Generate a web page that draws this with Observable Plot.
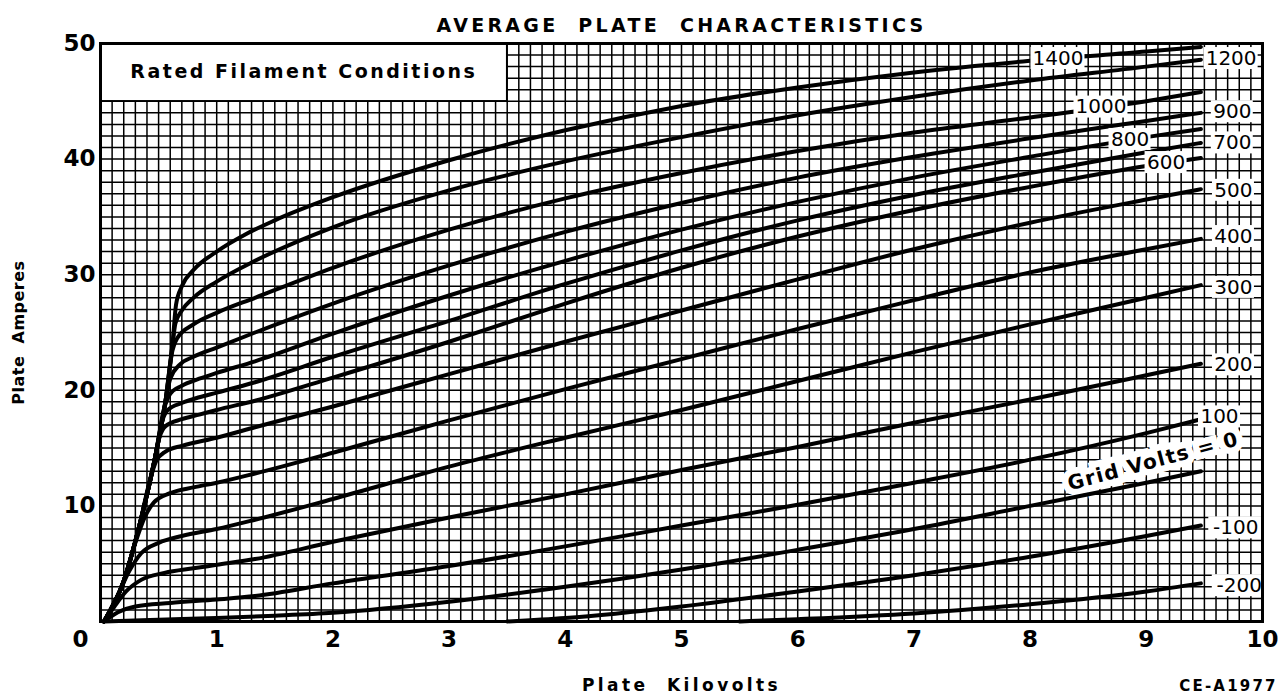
<!DOCTYPE html>
<html><head><meta charset="utf-8">
<script src="https://cdn.jsdelivr.net/npm/d3@7"></script>
<script src="https://cdn.jsdelivr.net/npm/@observablehq/plot@0.6"></script>
<style>body{margin:0;background:#fff;} svg{display:block}</style>
</head><body><div id="chart"></div>
<script>
// Plate kilovolts vs plate amperes, one list per grid voltage: [kV, A]
const g1400 = [[0.03,0],[0.2,3.5],[0.33,8.1],[0.47,14.2],[0.56,19.1],[0.62,24.0],[0.65,27.4],[0.7,29.0],[0.8,30.4],[1,32.0],[1.25,33.5],[1.5,34.7],[2,36.7],[3,39.9],[4,42.5],[5,44.6],[6,46.2],[7,47.5],[8,48.5],[9,49.3],[9.47,49.7]];
const g1200 = [[0.03,0],[0.2,3.5],[0.33,8.1],[0.47,14.2],[0.56,19.1],[0.62,24.0],[0.645,25.8],[0.7,26.9],[0.8,28.0],[1,29.4],[1.33,31.2],[2,34.1],[3,37.3],[4,39.8],[5,41.9],[6,43.8],[7,45.4],[8,46.8],[9,48.0],[9.47,48.6]];
const g1000 = [[0.03,0],[0.2,3.5],[0.33,8.1],[0.47,14.2],[0.56,19.1],[0.61,23.0],[0.66,24.5],[0.8,25.7],[1,26.7],[1.33,28.0],[2,30.6],[3,33.9],[4,36.6],[5,38.8],[6,40.7],[7,42.3],[8,43.6],[9,45.0],[9.47,45.8]];
const g900 = [[0.03,0],[0.2,3.5],[0.33,8.1],[0.47,14.2],[0.56,19.1],[0.6,21.0],[0.68,22.2],[0.8,22.9],[1,23.7],[1.33,25.0],[2,27.5],[3,30.8],[4,33.7],[5,36.2],[6,38.4],[7,40.2],[8,41.8],[9,43.3],[9.47,44.0]];
const g800 = [[0.03,0],[0.2,3.5],[0.33,8.1],[0.47,14.2],[0.55,18.5],[0.6,19.7],[0.7,20.4],[0.85,21.0],[1,21.5],[1.33,22.5],[2,24.9],[3,28.2],[4,31.2],[5,33.9],[6,36.3],[7,38.4],[8,40.2],[9,41.9],[9.47,42.6]];
const g700 = [[0.03,0],[0.2,3.5],[0.33,8.1],[0.47,14.2],[0.53,17.3],[0.58,18.3],[0.7,18.9],[0.85,19.4],[1,19.8],[1.33,20.7],[2,22.9],[3,26.0],[4,29.2],[5,32.1],[6,34.7],[7,36.9],[8,38.8],[9,40.6],[9.47,41.4]];
const g600 = [[0.03,0],[0.2,3.5],[0.33,8.1],[0.47,14.2],[0.51,16.0],[0.56,16.9],[0.7,17.5],[0.85,17.9],[1,18.3],[1.33,19.1],[2,21.1],[3,24.2],[4,27.5],[5,30.6],[6,33.3],[7,35.6],[8,37.6],[9,39.4],[9.47,40.1]];
const g500 = [[0.03,0],[0.2,3.5],[0.33,8.1],[0.42,12.0],[0.48,13.9],[0.56,14.7],[0.7,15.2],[1,15.9],[1.33,16.8],[2,18.6],[3,21.4],[4,24.2],[5,26.9],[6,29.6],[7,32.2],[8,34.5],[9,36.5],[9.47,37.4]];
const g400 = [[0.03,0],[0.2,3.5],[0.3,6.8],[0.38,9.0],[0.46,10.3],[0.6,11.1],[0.8,11.6],[1,12.0],[1.33,12.8],[2,14.6],[3,17.4],[4,20.1],[5,22.7],[6,25.3],[7,27.8],[8,30.2],[9,32.2],[9.47,33.1]];
const g300 = [[0.03,0],[0.15,2.3],[0.25,4.4],[0.35,5.9],[0.5,6.8],[0.7,7.4],[1,8.0],[1.33,8.8],[2,10.6],[3,13.4],[4,15.9],[5,18.3],[6,20.8],[7,23.3],[8,25.7],[9,28.0],[9.47,29.1]];
const g200 = [[0.03,0],[0.12,1.3],[0.22,2.6],[0.35,3.6],[0.55,4.2],[0.8,4.6],[1,4.9],[1.33,5.4],[2,6.9],[3,9.0],[4,11.0],[5,13.1],[6,15.1],[7,17.2],[8,19.2],[9,21.3],[9.47,22.3]];
const g100 = [[0.03,0],[0.15,0.8],[0.3,1.3],[0.6,1.6],[1,1.9],[1.33,2.2],[2,3.3],[3,4.8],[4,6.5],[5,8.3],[6,10.1],[7,12.0],[8,14.0],[9,16.3],[9.47,17.5]];
const g0 = [[0.03,0],[0.5,0.15],[1,0.3],[1.5,0.5],[2,0.75],[3,1.7],[4,3.0],[5,4.5],[6,6.2],[7,8.0],[8,10.0],[9,12.0],[9.47,13.0]];
const gm100 = [[3.5,0],[4,0.3],[5,1.3],[6,2.6],[7,4.0],[8,5.6],[9,7.4],[9.47,8.3]];
const gm200 = [[5.5,0],[6,0.2],[7,0.7],[8,1.5],[9,2.6],[9.47,3.3]];

const gridVolts = ["1400","1200","1000","900","800","700","600","500","400","300","200","100","0","-100","-200"];
const series = [g1400,g1200,g1000,g900,g800,g700,g600,g500,g400,g300,g200,g100,g0,gm100,gm200];

// curve labels: text, kV, A
const labelText = ["1400","1200","1000","900","800","700","600","500","400","300","200","100","-100","-200"];
const labelKV   = [8.24, 9.73, 8.61, 9.74, 8.86, 9.74, 9.17, 9.75, 9.75, 9.75, 9.75, 9.63, 9.77, 9.8];
const labelA    = [48.7, 48.7, 44.5, 44.1, 41.7, 41.4, 39.7, 37.3, 33.3, 28.9, 22.2, 17.7, 8.1, 3.1];

const xTicks = [1,2,3,4,5,6,7,8,9,10];
const yTicks = [10,20,30,40,50];

const titleText = "AVERAGE  PLATE  CHARACTERISTICS";
const boxText = "Rated Filament Conditions";
const xLabel = "Plate  Kilovolts";
const yLabel = "Plate  Amperes";
const curveNote = "Grid Volts = 0";
const figId = "CE-A1977";

const rows = series.flatMap((s, i) => s.map(([kv, a]) => ({grid: gridVolts[i], kv, a})));
const labels = labelText.map((t, i) => ({t, kv: labelKV[i], a: labelA[i]}));
const xGrid = d3.range(0, 101).map(i => i / 10);
const yGrid = d3.range(0, 51);

const font = "'DejaVu Sans', sans-serif";
const bold = {fontWeight: "bold", fill: "black"};

const chart = Plot.plot({
  width: 1278, height: 698,
  marginLeft: 100, marginRight: 16, marginTop: 43, marginBottom: 77,
  style: {fontFamily: font, background: "white", color: "black", overflow: "visible"},
  x: {domain: [0, 10]},
  y: {domain: [0, 50]},
  marks: [
    Plot.ruleX(xGrid, {stroke: "black", strokeWidth: 1.5}),
    Plot.ruleY(yGrid, {stroke: "black", strokeWidth: 1.5}),
    Plot.rect([{x1: 0, x2: 3.5, y1: 45, y2: 50}], {x1: "x1", x2: "x2", y1: "y1", y2: "y2", fill: "white", stroke: "black", strokeWidth: 1.5}),
    Plot.text([boxText], {x: 1.75, y: 47.5, text: d => d, fontSize: 19, ...bold}),
    Plot.text([curveNote], {x: 9.06, y: 13.85, text: d => d, rotate: -15, fontSize: 20, ...bold, stroke: "white", strokeWidth: 13, strokeLinejoin: "miter", paintOrder: "stroke"}),
    Plot.line(rows, {x: "kv", y: "a", z: "grid", stroke: "black", strokeWidth: 4, curve: "monotone-x"}),
    Plot.rect(labels.filter(d => d.t.length > 3), {x1: "kv", x2: "kv", y1: "a", y2: "a", insetLeft: -27, insetRight: -27, insetTop: -11, insetBottom: -11, fill: "white"}),
    Plot.rect(labels.filter(d => d.t.length <= 3), {x1: "kv", x2: "kv", y1: "a", y2: "a", insetLeft: -21, insetRight: -21, insetTop: -11, insetBottom: -11, fill: "white"}),
    Plot.text(labels, {x: "kv", y: "a", text: "t", fontSize: 20, fill: "black"}),
    Plot.frame({stroke: "black", strokeWidth: 3}),
    Plot.axisX(xTicks, {tickSize: 0, tickPadding: 9, fontSize: 23, ...bold, label: null, tickFormat: d => String(d)}),
    Plot.axisX([0], {tickSize: 0, tickPadding: 9, fontSize: 23, ...bold, label: null, dx: -20, tickFormat: d => String(d)}),
    Plot.axisY(yTicks, {tickSize: 0, tickPadding: 5, fontSize: 23, ...bold, label: null, tickFormat: d => String(d)}),
    Plot.text([titleText], {frameAnchor: "top", dy: -25, text: d => d, textAnchor: "middle", fontSize: 19, ...bold}),
    Plot.text([xLabel], {frameAnchor: "bottom", dy: 69, text: d => d, textAnchor: "middle", fontSize: 17, ...bold}),
    Plot.text([yLabel], {frameAnchor: "left", dx: -82, rotate: -90, text: d => d, textAnchor: "middle", fontSize: 16, ...bold}),
    Plot.text([figId], {frameAnchor: "bottom-right", dx: -34, dy: 69, text: d => d, textAnchor: "middle", fontSize: 15, ...bold})
  ]
});

// letter spacing for the lettered texts
const spacing = new Map([[titleText, 3.3], [boxText, 2.5], [xLabel, 3.4], [yLabel, 0.5], [curveNote, 1.5], [figId, 2.2]]);
d3.select(chart).selectAll("text").each(function() {
  const t = this.textContent;
  if (spacing.has(t)) {
    this.style.letterSpacing = spacing.get(t) + "px";
    this.style.whiteSpace = "pre";
  }
});
document.getElementById("chart").append(chart);
</script>
</body></html>
